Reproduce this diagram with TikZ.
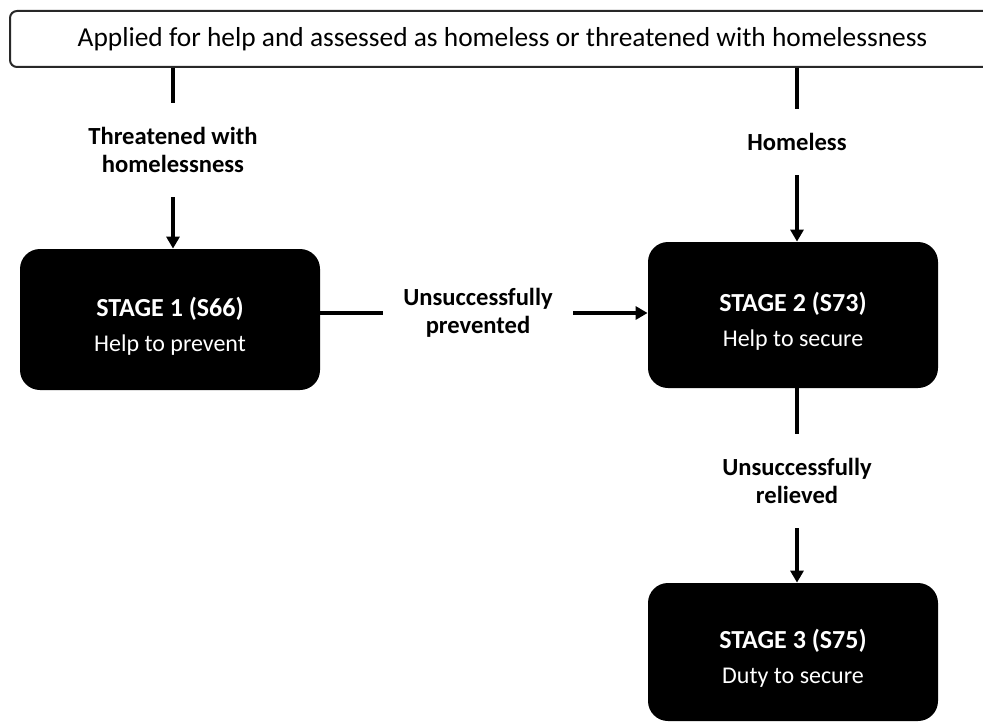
\documentclass[tikz,border=0pt]{standalone}
\usepackage{fontspec}
\setmainfont{Carlito}
\usetikzlibrary{arrows.meta,positioning}
\definecolor{BoxBlack}{RGB}{0,0,0}
\definecolor{EdgeGray}{RGB}{40,40,40}
\newcommand{\stagetext}[2]{{\fontsize{13}{17.5}\selectfont\bfseries\rule{0pt}{16pt}#1}\\#2}
\tikzset{
  topbox/.style={draw=EdgeGray,line width=1pt,rounded corners=3.5pt,fill=white,
    minimum width=492.5pt,minimum height=28pt,align=center,
    font=\fontsize{13.7}{15}\selectfont},
  stagebox/.style={fill=BoxBlack,text=white,rounded corners=10pt,
    align=center,font=\fontsize{12}{17.5}\selectfont},
  vlabel/.style={align=center,inner xsep=2pt,inner ysep=12pt,
    font=\fontsize{12.3}{14.2}\selectfont\bfseries},
  hlabel/.style={align=center,inner xsep=10pt,inner ysep=4pt,
    font=\fontsize{12.3}{14.2}\selectfont\bfseries},
  flowline/.style={line width=1.8pt,draw=black},
  flowarrow/.style={-{Triangle[length=6pt,width=6.5pt]},line width=1.8pt,draw=black},
}

\begin{document}
\begin{tikzpicture}[x=0.5pt,y=-0.5pt]
  \useasboundingbox (0,0) rectangle (983,722);
  \node[topbox] (applied) at (502.5,39) {Applied for help and assessed as homeless or threatened with homelessness};
  \node[stagebox,minimum width=150pt,minimum height=70.5pt] (stage1) at (170,319.5) {\stagetext{STAGE 1 (S66)}{Help to prevent}};
  \node[stagebox,minimum width=145pt,minimum height=73pt] (stage2) at (793,315) {\stagetext{STAGE 2 (S73)}{Help to secure}};
  \node[stagebox,minimum width=145pt,minimum height=69pt] (stage3) at (793,652) {\stagetext{STAGE 3 (S75)}{Duty to secure}};
  \node[vlabel] (threat) at (173,150) {Threatened with\\homelessness};
  \node[vlabel] (homeless) at (797,142) {Homeless};
  \node[hlabel] (prevented) at (478,313) {Unsuccessfully\\prevented};
  \node[vlabel] (relieved) at (797,481) {Unsuccessfully\\relieved};
  \draw[flowline] (applied.south -| threat) -- (threat.north);
  \draw[flowarrow] (threat.south) -- (threat.south |- stage1.north);
  \draw[flowline] (applied.south -| homeless) -- (homeless.north);
  \draw[flowarrow] (homeless.south) -- (homeless.south |- stage2.north);
  \draw[flowline] (stage1.east |- prevented) -- (prevented.west);
  \draw[flowarrow] (prevented.east) -- (prevented.east -| stage2.west);
  \draw[flowline] (stage2.south -| relieved) -- (relieved.north);
  \draw[flowarrow] (relieved.south) -- (relieved.south |- stage3.north);
\end{tikzpicture}
\end{document}
